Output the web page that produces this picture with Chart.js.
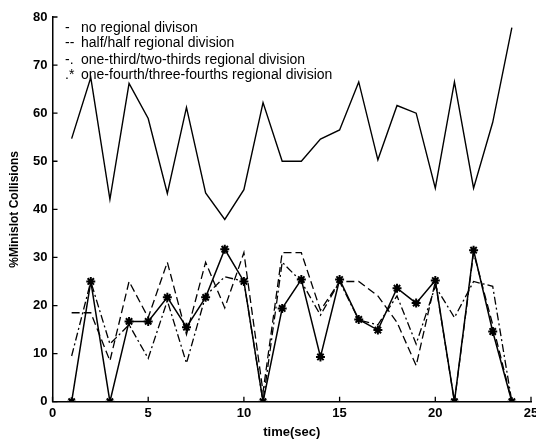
<!DOCTYPE html>
<html>
<head>
<meta charset="utf-8">
<script src="https://cdn.jsdelivr.net/npm/chart.js@4.4.1/dist/chart.umd.min.js"></script>
<style>
  body { margin: 0; background: #fff; }
  #caixa { width: 536px; height: 440px; }
</style>
</head>
<body>
<div id="caixa"><canvas id="grafico" width="536" height="440"></canvas></div>
<script>
// tempo (s) de cada amostra
const tempos = [1,2,3,4,5,6,7,8,9,10,11,12,13,14,15,16,17,18,19,20,21,22,23,24];

// % de colisoes por esquema de divisao
const semDivisao   = [54.7,67.4,42.1,66.2,58.9,43.3,61.2,43.4,37.9,44.1,62.2,50,50,54.6,56.5,66.5,50.3,61.6,60,44.4,66.5,44.4,58.1,77.8];
const metade       = [18.5,18.5,8.5,25,17.5,29,14,29,19.5,31,2,31,31,19,25,25,22,16.5,7.5,25,0,31,16,0];
const umTerco      = [9.5,25,12,16,9,21,8,22,26,25,0,29,25,18,25,17,16,22,12,24,17.5,25,24,0];
const umQuarto     = [0,25,0,16.7,16.7,21.7,15.5,21.7,31.7,25,0,19.4,25.4,9.3,25.4,17.1,14.9,23.6,20.5,25.2,0,31.5,14.6,0];

const legendas = ['no regional divison','half/half regional division','one-third/two-thirds regional division','one-fourth/three-fourths regional division'];
const simbolos = ['-','--','-.','.*'];

const xMin = 0, xMax = 25, xPasso = 5;
const yMin = 0, yMax = 80, yPasso = 10;

const pontos = serie => tempos.map((t, i) => ({x: t, y: serie[i]}));

// ticks para dentro, como no matlab
const ticksDentro = {
  id: 'ticksDentro',
  afterDraw(chart) {
    const c = chart.ctx, a = chart.chartArea;
    const sx = chart.scales.x, sy = chart.scales.y;
    c.save();
    c.strokeStyle = '#000';
    c.lineWidth = 1.3;
    c.beginPath();
    sy.ticks.forEach(t => {
      const py = sy.getPixelForValue(t.value);
      c.moveTo(a.left, py); c.lineTo(a.left + 5, py);
    });
    sx.ticks.forEach(t => {
      const px = sx.getPixelForValue(t.value);
      c.moveTo(px, a.bottom); c.lineTo(px, a.bottom - 5);
    });
    c.stroke();
    c.restore();
  }
};

// legenda escrita como texto, igual a figura
const legendaTexto = {
  id: 'legendaTexto',
  afterDraw(chart) {
    const c = chart.ctx;
    const ys = [28, 43.5, 60, 75];
    c.save();
    c.fillStyle = '#000';
    c.font = '14px "Liberation Sans", Arial, sans-serif';
    c.textBaseline = 'middle';
    legendas.forEach((txt, i) => {
      c.fillText(simbolos[i], 65, ys[i]);
      c.fillText(txt, 81, ys[i]);
    });
    c.restore();
  }
};

const ctx = document.querySelector('#grafico');

const grafico = new Chart(ctx, {
  type: 'line',
  data: {
    datasets: [
      { label: legendas[0], data: pontos(semDivisao), borderColor: '#000', borderWidth: 1.4, pointRadius: 0, tension: 0 },
      { label: legendas[1], data: pontos(metade), borderColor: '#000', borderWidth: 1.3, borderDash: [8, 4], pointRadius: 0, tension: 0 },
      { label: legendas[2], data: pontos(umTerco), borderColor: '#000', borderWidth: 1.3, borderDash: [8, 3, 2, 3], pointRadius: 0, tension: 0 },
      { label: legendas[3], data: pontos(umQuarto), borderColor: '#000', backgroundColor: '#000', borderWidth: 1.5,
        pointStyle: 'star', pointRadius: 4.5, pointBorderWidth: 2, tension: 0 }
    ]
  },
  options: {
    responsive: false,
    animation: false,
    layout: { autoPadding: false, padding: { top: 17, right: 5, left: 0, bottom: 0 } },
    plugins: { legend: { display: false }, tooltip: { enabled: false } },
    scales: {
      x: {
        type: 'linear', min: xMin, max: xMax,
        grid: { display: false, drawTicks: false },
        border: { display: true, color: '#000', width: 1.5 },
        ticks: { stepSize: xPasso, color: '#000', padding: 4, font: { family: '"Liberation Sans", Arial', size: 13, weight: 'bold' } },
        title: { display: true, text: 'time(sec)', color: '#000', padding: { top: 0, bottom: 0 }, font: { family: '"Liberation Sans", Arial', size: 13, weight: 'bold' } },
        afterFit(s) { s.height = 38.3; s.paddingLeft = 0; s.paddingRight = 0; }
      },
      y: {
        min: yMin, max: yMax,
        grid: { display: false, drawTicks: false },
        border: { display: true, color: '#000', width: 1.5 },
        ticks: { stepSize: yPasso, color: '#000', padding: 5, font: { family: '"Liberation Sans", Arial', size: 13, weight: 'bold' } },
        title: { display: true, text: '%Minislot Collisions', color: '#000', padding: { top: 7, bottom: 0 }, font: { family: '"Liberation Sans", Arial', size: 12, weight: 'bold' } },
        afterFit(s) { s.width = 52.5; s.paddingTop = 0; s.paddingBottom = 0; }
      }
    }
  },
  plugins: [ticksDentro, legendaTexto]
});
</script>
</body>
</html>
